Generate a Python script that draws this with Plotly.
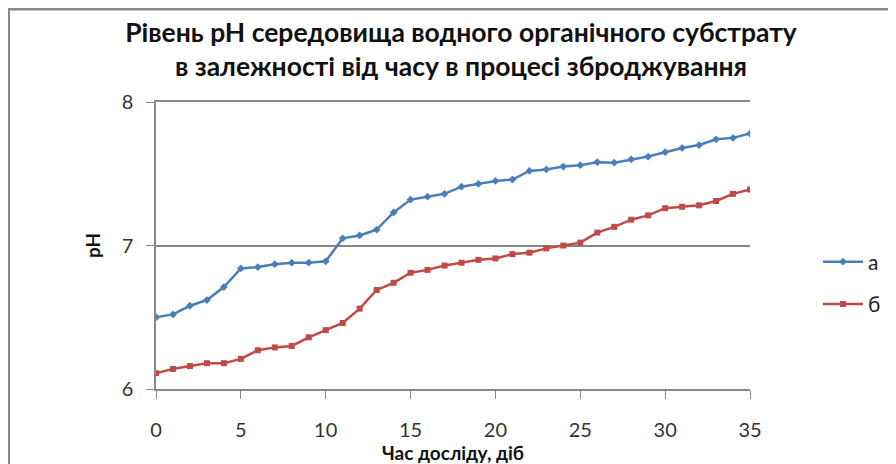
import plotly.graph_objects as go

days = list(range(36))
ph_a = [6.50, 6.52, 6.58, 6.62, 6.71, 6.84, 6.85, 6.87, 6.88, 6.88, 6.89, 7.05, 7.07, 7.11,
        7.23, 7.32, 7.34, 7.36, 7.41, 7.43, 7.45, 7.46, 7.52, 7.53, 7.55, 7.56, 7.58, 7.577,
        7.60, 7.62, 7.65, 7.68, 7.70, 7.74, 7.75, 7.78]
ph_b = [6.11, 6.14, 6.16, 6.18, 6.18, 6.21, 6.27, 6.29, 6.30, 6.36, 6.41, 6.46, 6.56, 6.69,
        6.74, 6.81, 6.83, 6.86, 6.88, 6.90, 6.91, 6.94, 6.95, 6.98, 7.00, 7.02, 7.09, 7.13,
        7.18, 7.21, 7.26, 7.27, 7.28, 7.31, 7.36, 7.39]
series_names = ["а", "б"]
title_text = "Рівень pH середовища водного органічного субстрату<br>в залежності від часу в процесі зброджування"
x_title = "Час досліду, діб"
y_title = "pH"

FONT = "Lato"
OFF = 8  # page body margin
W, H = 896, 464
L, R, T, B = 156 - OFF, 146 + OFF, 102 - OFF, 75 + OFF
pw, ph = W - L - R, H - T - B

def px(x):
    return (x - OFF - L) / pw

def py(y):
    return (H - B - (y - OFF)) / ph

fig = go.Figure()
fig.add_trace(go.Scatter(x=days, y=ph_a, name=series_names[0], mode="lines+markers",
                         legendgroup="a",
                         line=dict(color="#4A7EBB", width=2.5),
                         marker=dict(symbol="diamond", size=6, color="#4A7EBB")))
fig.add_trace(go.Scatter(x=days, y=ph_b, name=series_names[1], mode="lines+markers",
                         legendgroup="b",
                         line=dict(color="#BE4B48", width=2.5),
                         marker=dict(symbol="square", size=6, color="#BE4B48")))

fig.update_layout(
    width=W, height=H,
    margin=dict(l=L, r=R, t=T, b=B),
    paper_bgcolor="white", plot_bgcolor="white",
    font=dict(family=FONT, color="#333333"),
    title=dict(text="<b>" + title_text + "</b>", x=(461 - OFF) / W, xanchor="center",
               y=1 - (42 - OFF) / H, yanchor="middle",
               font=dict(size=26.5, color="#111111", family=FONT)),
    legend=dict(x=px(818), xanchor="left", y=py(283), yanchor="middle",
                font=dict(size=21, color="#222222", family=FONT),
                bgcolor="rgba(0,0,0,0)", traceorder="grouped", tracegroupgap=12,
                itemwidth=40),
    showlegend=True,
)
fig.update_xaxes(range=[0, 35], tickmode="linear", tick0=0, dtick=5,
                 showgrid=False, zeroline=False,
                 showline=True, mirror=True, linecolor="#888888", linewidth=1.8,
                 ticks="outside", ticklen=8, tickcolor="#888888",
                 ticklabelstandoff=14,
                 tickfont=dict(size=20, color="#333333", family=FONT),
                 title=dict(text="<b>" + x_title + "</b>", standoff=2,
                            font=dict(size=19, color="#111111", family=FONT)))
fig.update_yaxes(range=[6, 8], tickmode="linear", tick0=6, dtick=1,
                 showgrid=True, gridcolor="#868686", gridwidth=2, zeroline=False,
                 showline=True, linecolor="#888888", linewidth=1.5,
                 ticks="outside", ticklen=8, tickcolor="#888888",
                 ticklabelstandoff=9,
                 tickfont=dict(size=20, color="#333333", family=FONT),
                 title=dict(text="<b>" + y_title + "</b>", standoff=16,
                            font=dict(size=19, color="#111111", family=FONT)))

# outer chart frame
fig.add_shape(type="rect", xref="paper", yref="paper",
              x0=px(8.5), x1=px(910), y0=py(480), y1=py(9),
              line=dict(color="#888888", width=3), fillcolor="rgba(0,0,0,0)", layer="below")

fig.write_html("out.html")
